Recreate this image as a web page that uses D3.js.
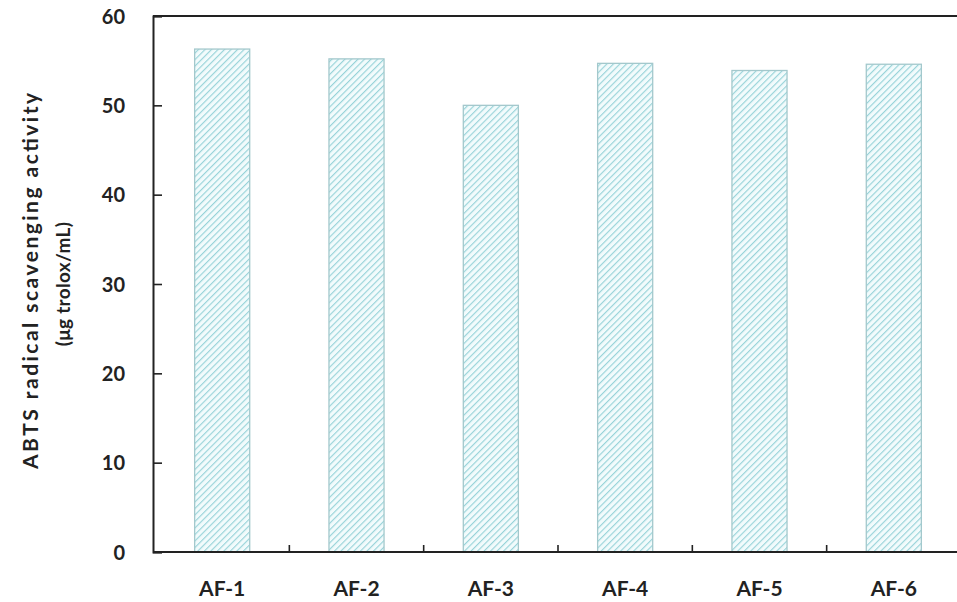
<!DOCTYPE html>
<html>
<head>
<meta charset="utf-8">
<script src="https://cdn.jsdelivr.net/npm/d3@7/dist/d3.min.js"></script>
<style>
  html, body { margin: 0; padding: 0; background: #fff; }
  svg { display: block; }
  text { font-family: Lato, "Open Sans", sans-serif; font-weight: 700; fill: #222; }
</style>
</head>
<body>
<svg id="chart" width="957" height="602"></svg>
<script>
// ABTS radical scavenging activity per sample
const categories = ["AF-1", "AF-2", "AF-3", "AF-4", "AF-5", "AF-6"];
const activity = [56.3, 55.2, 50.0, 54.7, 53.9, 54.6];
const yTicks = [0, 10, 20, 30, 40, 50, 60];
const yTitle = ["ABTS radical scavenging activity", "(\u03bcg trolox/mL)"];

const W = 957, H = 602;
const plot = { left: 153, right: 963, top: 16, bottom: 552 };

const svg = d3.select("#chart");

// diagonal hatch fill for the bars
const defs = svg.append("defs");
const pat = defs.append("pattern")
  .attr("id", "hatch")
  .attr("patternUnits", "userSpaceOnUse")
  .attr("width", 4.6).attr("height", 4.6)
  .attr("patternTransform", "rotate(45)");
pat.append("rect").attr("width", 4.6).attr("height", 4.6).attr("fill", "#f2fbfc");
pat.append("line")
  .attr("x1", 0).attr("y1", 0).attr("x2", 0).attr("y2", 4.6)
  .attr("stroke", "#98d3d9").attr("stroke-width", 2.3);

const x = d3.scaleBand()
  .domain(categories)
  .range([plot.left, plot.right])
  .paddingInner(0.59)
  .paddingOuter(0.31);

const y = d3.scaleLinear()
  .domain([0, 60])
  .range([plot.bottom, plot.top]);

// bars
svg.append("g").selectAll("rect")
  .data(categories.map((c, i) => ({ c, v: activity[i] })))
  .join("rect")
  .attr("x", d => x(d.c))
  .attr("y", d => y(d.v))
  .attr("width", x.bandwidth())
  .attr("height", d => y(0) - y(d.v))
  .attr("fill", "url(#hatch)")
  .attr("stroke", "#a3c8cc")
  .attr("stroke-width", 1.3);

// y axis with inward ticks
const yAxis = d3.axisLeft(y).tickValues(yTicks).tickSize(-9).tickPadding(0).tickFormat(d3.format("d"));
const gy = svg.append("g").attr("transform", `translate(${plot.left},0)`).call(yAxis);
gy.select(".domain").attr("stroke", "#222").attr("stroke-width", 2);
gy.selectAll(".tick line").attr("stroke", "#222").attr("stroke-width", 1.6);
gy.selectAll(".tick text")
  .attr("x", -28)
  .attr("dy", "0.35em")
  .style("font-size", "20px")
  .attr("text-anchor", "end");

// x axis: category labels, ticks between categories
const step = x.step();
const boundaries = categories.slice(0, -1).map(c => x(c) + x.bandwidth() / 2 + step / 2);
const gx = svg.append("g").attr("transform", `translate(0,${plot.bottom})`);
gx.append("line")
  .attr("x1", plot.left).attr("x2", plot.right)
  .attr("stroke", "#222").attr("stroke-width", 2);
gx.selectAll("line.tk").data(boundaries).join("line")
  .attr("class", "tk")
  .attr("x1", d => d).attr("x2", d => d)
  .attr("y1", 0).attr("y2", -7)
  .attr("stroke", "#222").attr("stroke-width", 1.6);
gx.selectAll("text").data(categories).join("text")
  .attr("x", d => x(d) + x.bandwidth() / 2)
  .attr("y", 44)
  .attr("text-anchor", "middle")
  .style("font-size", "21px")
  .text(d => d);

// top frame line
svg.append("line")
  .attr("x1", plot.left).attr("x2", plot.right)
  .attr("y1", plot.top).attr("y2", plot.top)
  .attr("stroke", "#222").attr("stroke-width", 2);

// y axis title, two lines
svg.append("text")
  .attr("transform", `translate(38,281) rotate(-90)`)
  .attr("text-anchor", "middle")
  .attr("textLength", 376)
  .attr("lengthAdjust", "spacing")
  .style("font-size", "21px")
  .text(yTitle[0]);
svg.append("text")
  .attr("transform", `translate(70,284) rotate(-90)`)
  .attr("text-anchor", "middle")
  .style("font-size", "19px")
  .style("letter-spacing", "0.3px")
  .text(yTitle[1]);
</script>
</body>
</html>
